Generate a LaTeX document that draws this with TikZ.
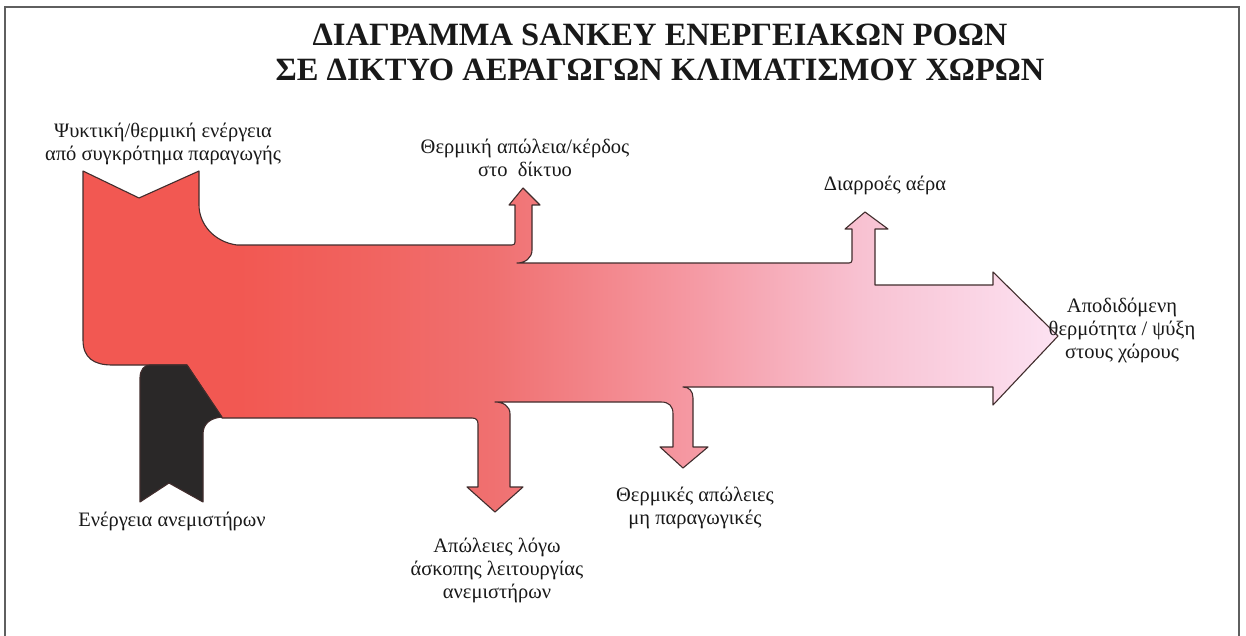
\documentclass[tikz,border=0pt]{standalone}
\usepackage{fontspec}
\setmainfont{Liberation Serif}
\definecolor{sred}{RGB}{242,88,82}
\definecolor{sred2}{RGB}{241,98,94}
\definecolor{smidA}{RGB}{240,112,112}
\definecolor{smidB}{RGB}{245,152,162}
\definecolor{smidC}{RGB}{248,194,210}
\definecolor{spink}{RGB}{252,226,242}
\definecolor{outl}{RGB}{65,45,45}
\definecolor{fanblack}{RGB}{42,40,40}
\definecolor{framegray}{RGB}{95,95,95}
\definecolor{txt}{RGB}{25,25,25}
\pgfdeclarehorizontalshading{sankey}{100bp}{color(0bp)=(sred); color(33bp)=(sred); color(39bp)=(sred2); color(46bp)=(smidA); color(56bp)=(smidB); color(65bp)=(smidC); color(75bp)=(spink); color(100bp)=(spink)}
\tikzset{
  flow/.style={shading=sankey, draw=outl, line width=1.1pt, line join=round},
  fan/.style={fill=fanblack, draw=outl, line width=1.1pt, line join=round},
  lbl/.style={text=txt, align=center, font=\fontsize{20.5}{23}\selectfont, inner sep=0pt},
  ttl/.style={text=txt, align=center, font=\fontsize{32.5}{35}\selectfont\bfseries, inner sep=0pt}
}
\begin{document}
\begin{tikzpicture}[x=1pt, y=-1pt]
\useasboundingbox (0,0) rectangle (1246,636);
\fill[white] (0,0) rectangle (1246,636);
% frame
\draw[framegray, line width=2pt] (5,636) -- (5,7) -- (1239,7) -- (1239,636);
% main red flow
\shadedraw[flow] (83,171) -- (139,198) -- (199,171) -- (199,205)
  .. controls (199,224) and (214,242) .. (237,245)
  -- (512,245) .. controls (514,245) and (515,244) .. (515,242)
  -- (515,205) -- (509,205) -- (523,188) -- (540,205) -- (532,205)
  -- (532,250) .. controls (532,258) and (525,263) .. (517,263)
  -- (849,263) .. controls (851,263) and (852,262) .. (852,260)
  -- (852,229) -- (845,229) -- (865,212) -- (888,229) -- (875,229)
  -- (875,285) -- (993,285) -- (993,272) -- (1058,336) -- (993,405) -- (993,387)
  -- (683,387) .. controls (689,387) and (693,391) .. (693,398)
  -- (693,447) -- (708,447) -- (683,468) -- (660,447) -- (673,447)
  -- (673,414) .. controls (673,406) and (669,402) .. (661,402)
  -- (495,402) .. controls (503,402) and (510,406) .. (510,414)
  -- (510,487) -- (523,487) -- (495,512) -- (467,487) -- (478,487)
  -- (478,424) .. controls (478,420) and (476,418) .. (472,418)
  -- (222,418) -- (187,365) -- (112,365)
  .. controls (94,365) and (83,358) .. (83,340) -- cycle;
% fan energy (black)
\filldraw[fan] (150,365) -- (187,365) -- (222,417)
  .. controls (210,418) and (203,424) .. (203,434)
  -- (203,502) -- (169,483) -- (140,502) -- (140,378)
  .. controls (140,370) and (144,365) .. (150,365) -- cycle;
% title
\node[ttl] (title) at (660,52) {ΔΙΑΓΡΑΜΜΑ SANKEY ΕΝΕΡΓΕΙΑΚΩΝ ΡΟΩΝ\\ΣΕ ΔΙΚΤΥΟ ΑΕΡΑΓΩΓΩΝ ΚΛΙΜΑΤΙΣΜΟΥ ΧΩΡΩΝ};
% labels
\node[lbl] (input) at (163,144) {Ψυκτική/θερμική ενέργεια\\από συγκρότημα παραγωγής};
\node[lbl] (netloss) at (525,158) {Θερμική απώλεια/κέρδος\\στο\ \ δίκτυο};
\node[lbl] (leak) at (885,185) {Διαρροές αέρα};
\node[lbl] (output) at (1122,330) {Αποδιδόμενη\\θερμότητα / ψύξη\\στους χώρους};
\node[lbl] (fanlbl) at (172,521) {Ενέργεια ανεμιστήρων};
\node[lbl] (thermloss) at (695,508) {Θερμικές απώλειες\\μη παραγωγικές};
\node[lbl] (idleloss) at (497,570) {Απώλειες λόγω\\άσκοπης λειτουργίας\\ανεμιστήρων};
\end{tikzpicture}
\end{document}
